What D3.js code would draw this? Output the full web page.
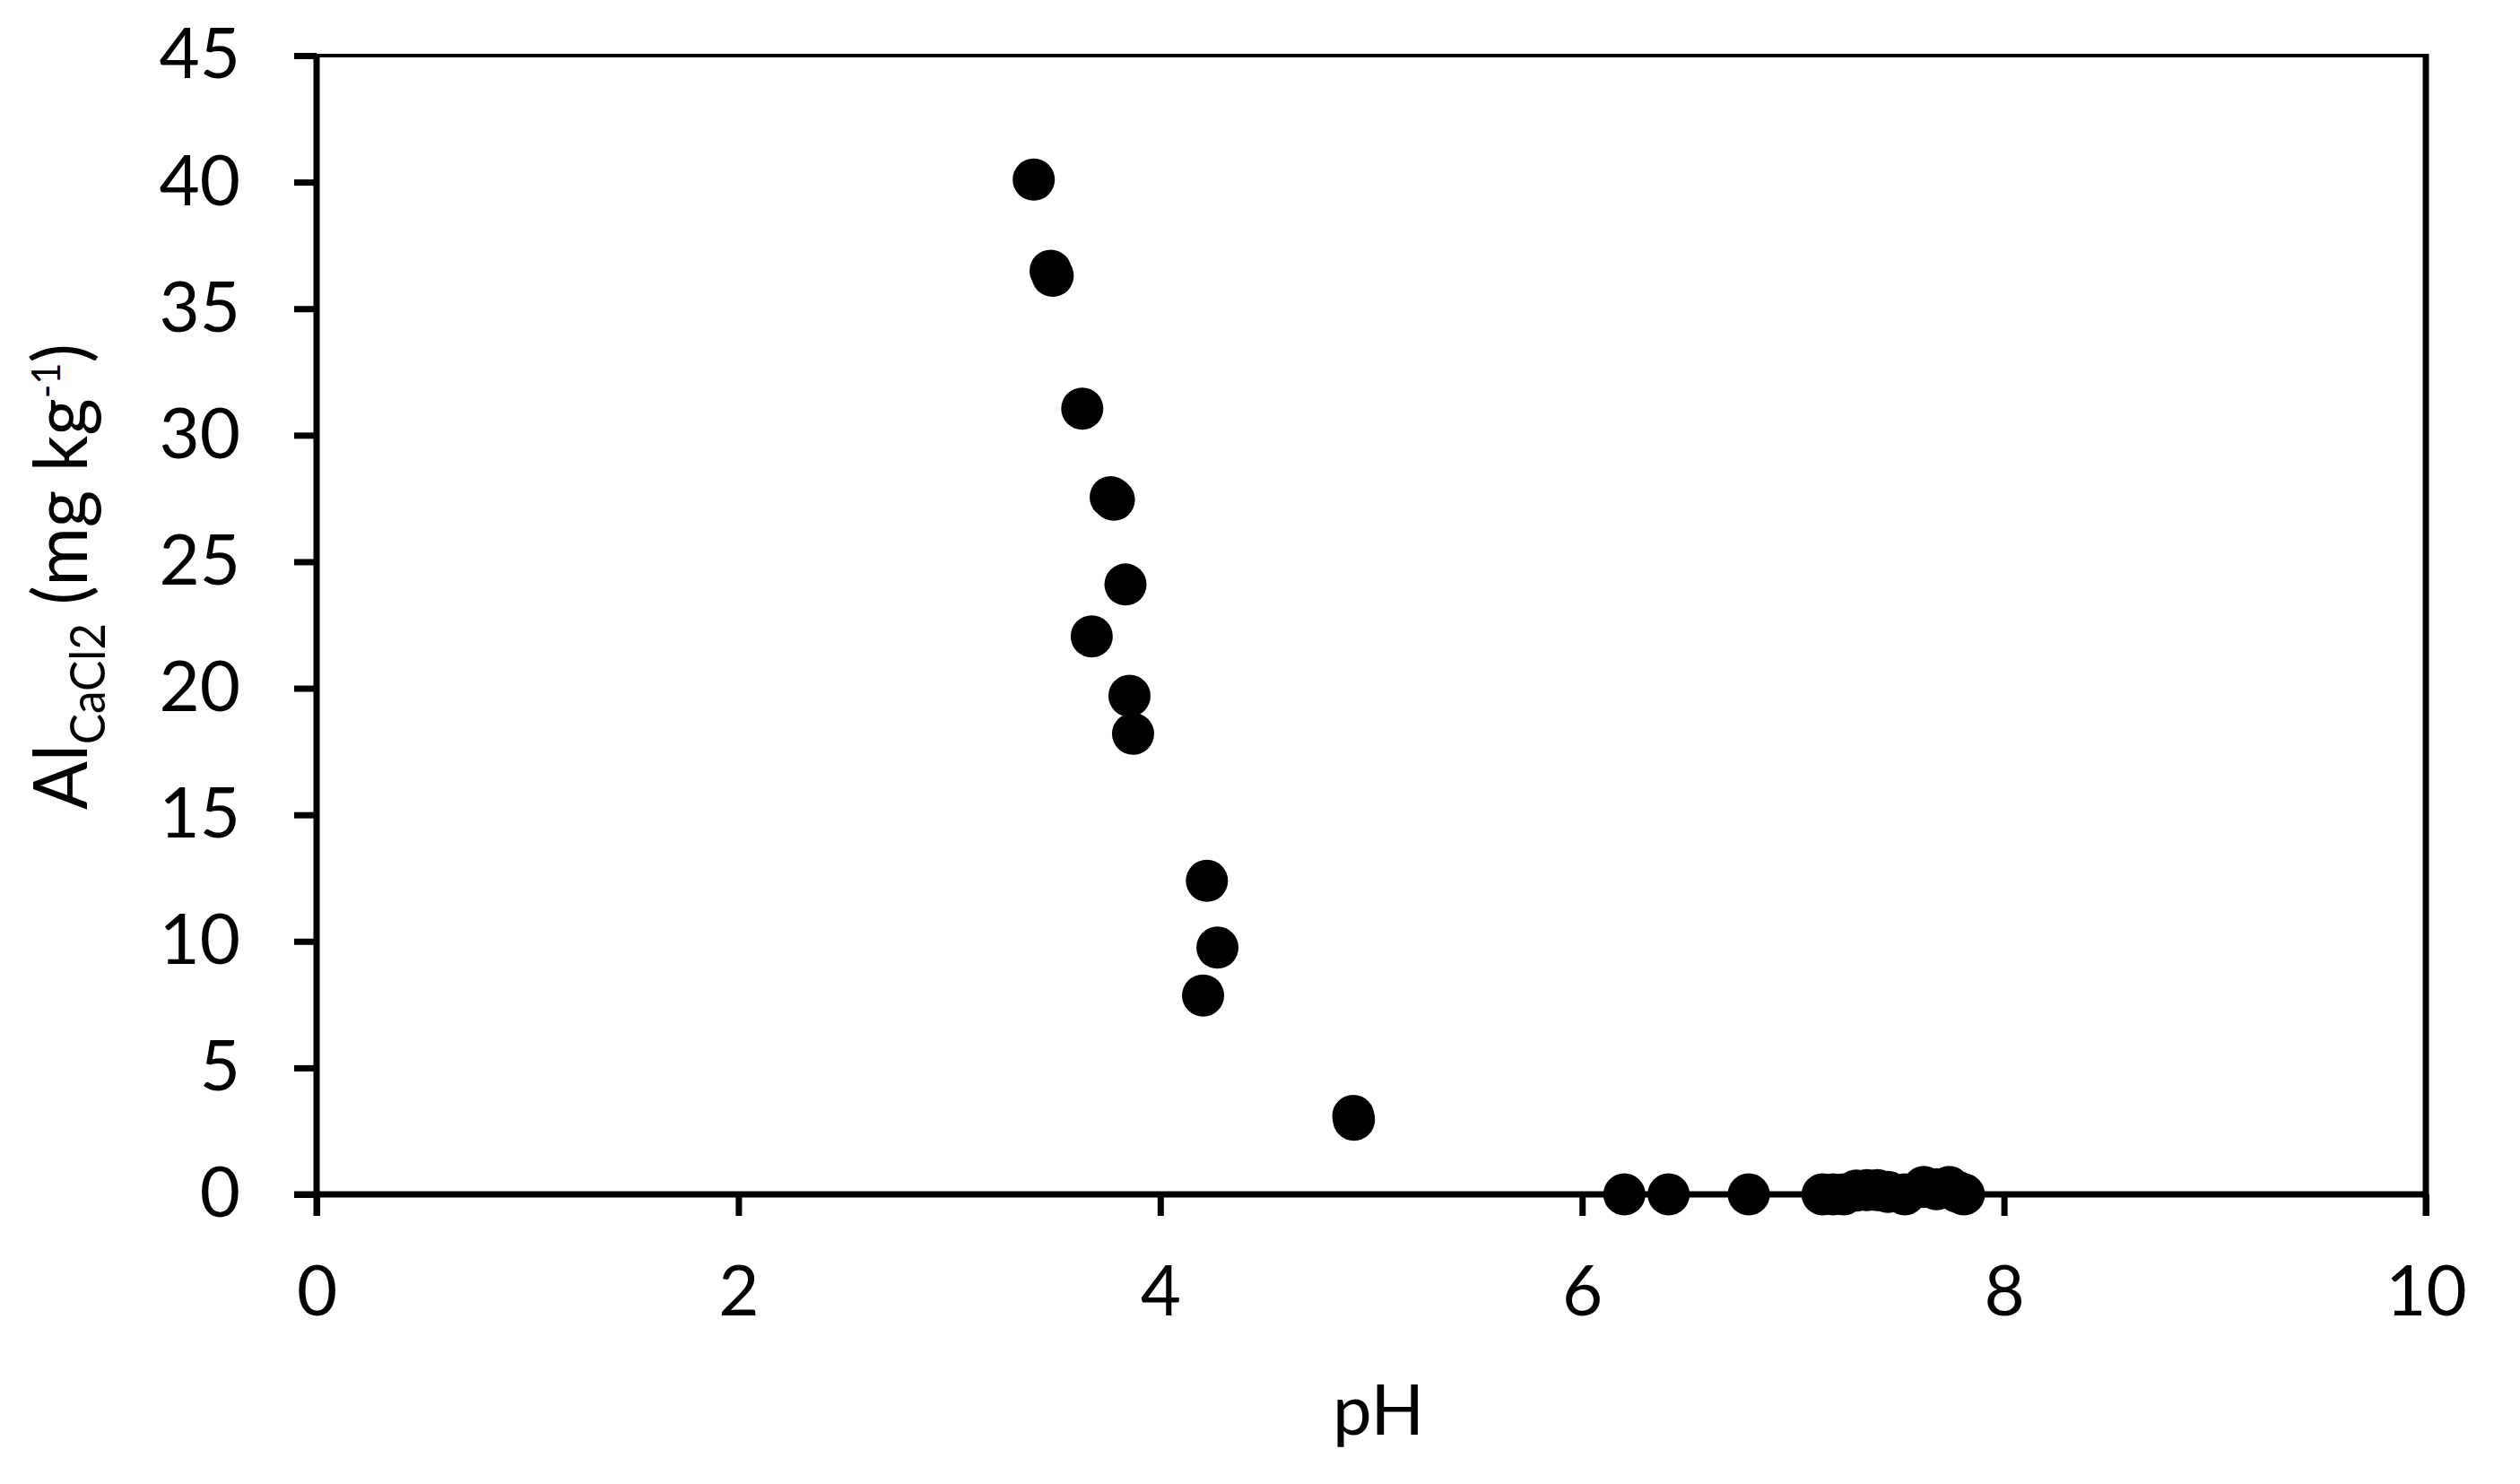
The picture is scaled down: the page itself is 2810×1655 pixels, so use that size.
<html>
  <head>
    <meta charset="UTF-8">
    <script src="https://d3js.org/d3.v7.min.js"></script>
    <style>
      body {
        margin: 0;
        background: #fff;
        font-family: Lato, "Open Sans", sans-serif;
      }
      .axis text {
        font-family: Lato, "Open Sans", sans-serif;
        font-size: 78px;
        fill: #000;
      }
    </style>
  </head>
  <body>
    <svg width="2810" height="1655"></svg>
    <script>
      // pH vs Al (CaCl2 extract)
      const pH = [3.40, 3.48, 3.49, 3.63, 3.765, 3.78, 3.835, 3.675, 3.854, 3.871,
                  4.221, 4.271, 4.203, 4.915, 4.918,
                  6.20, 6.41, 6.79,
                  7.14, 7.19, 7.24, 7.30, 7.35, 7.40, 7.45, 7.53, 7.62, 7.68, 7.74, 7.78, 7.81];
      const al = [40.1, 36.5, 36.3, 31.05, 27.55, 27.45, 24.1, 22.05, 19.7, 18.2,
                  12.39, 9.75, 7.86, 3.1, 2.95,
                  0, 0, 0,
                  0, 0, 0, 0.15, 0.17, 0.17, 0.1, 0, 0.29, 0.2, 0.29, 0.1, 0];

      const xTicks = [0, 2, 4, 6, 8, 10];
      const yTicks = [0, 5, 10, 15, 20, 25, 30, 35, 40, 45];

      const svg = d3.select("svg");
      const mLeft = 353, mRight = 2705, mTop = 62, mBottom = 1332;

      const x = d3.scaleLinear().domain([0, 10]).range([mLeft, mRight]);
      const y = d3.scaleLinear().domain([0, 45]).range([mBottom, mTop]);

      // plot frame
      svg.append("line")
        .attr("x1", x(0) - 25).attr("x2", x(10))
        .attr("y1", y(45)).attr("y2", y(45))
        .attr("stroke", "#000").attr("stroke-width", 4);
      svg.append("line")
        .attr("x1", x(10)).attr("x2", x(10))
        .attr("y1", y(45) - 2).attr("y2", y(0) + 24)
        .attr("stroke", "#000").attr("stroke-width", 7);

      const xAxis = svg.append("g")
        .attr("class", "axis")
        .attr("transform", `translate(0, ${mBottom})`)
        .call(d3.axisBottom(x).tickValues(xTicks).tickSize(24).tickSizeOuter(0).tickPadding(56).tickFormat(d3.format("d")));

      const yAxis = svg.append("g")
        .attr("class", "axis")
        .attr("transform", `translate(${mLeft}, 0)`)
        .call(d3.axisLeft(y).tickValues(yTicks).tickSize(25).tickSizeOuter(0).tickPadding(60).tickFormat(d3.format("d")));

      [xAxis, yAxis].forEach((g) => {
        g.select(".domain").remove();
        g.selectAll(".tick line").attr("stroke", "#000").attr("stroke-width", 7);
      });

      // axis lines drawn on top of the tick stubs
      svg.append("line")
        .attr("x1", x(0) - 25).attr("x2", x(10) + 3)
        .attr("y1", y(0)).attr("y2", y(0))
        .attr("stroke", "#000").attr("stroke-width", 7);
      svg.append("line")
        .attr("x1", x(0)).attr("x2", x(0))
        .attr("y1", y(45) - 2).attr("y2", y(0) + 24)
        .attr("stroke", "#000").attr("stroke-width", 7);

      // points
      svg.append("g")
        .selectAll("circle")
        .data(pH.map((p, i) => ({ p: p, a: al[i] })))
        .join("circle")
          .attr("cx", (d) => x(d.p))
          .attr("cy", (d) => y(d.a))
          .attr("r", 23.5)
          .attr("fill", "#000");

      // x label
      svg.append("text")
        .attr("x", (mLeft + mRight) / 2 + 8)
        .attr("y", 1600)
        .attr("text-anchor", "middle")
        .style("font-size", "78px")
        .text("pH");

      // y label
      const yl = svg.append("g")
        .attr("transform", "translate(97, 643) rotate(-90)");
      const yt = yl.append("text")
        .attr("text-anchor", "middle")
        .style("font-size", "84px");
      yt.append("tspan").text("Al");
      yt.append("tspan").attr("dy", 20).style("font-size", "54px").text("CaCl2");
      yt.append("tspan").attr("dy", -20).text(" (mg kg");
      yt.append("tspan").attr("dy", -30).style("font-size", "44px").text("-1");
      yt.append("tspan").attr("dy", 30).text(")");

      const w = yt.node().getBBox().width;
      yt.attr("transform", `scale(${520 / w}, 1)`);
    </script>
  </body>
</html>
